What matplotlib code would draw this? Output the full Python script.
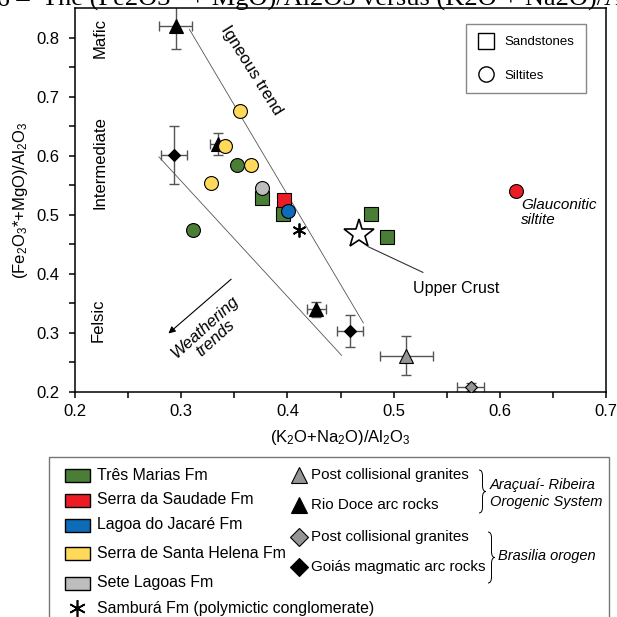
import matplotlib
matplotlib.use('Agg')
import matplotlib.pyplot as plt
from matplotlib.lines import Line2D
from matplotlib.patches import Rectangle, PathPatch
from matplotlib.path import Path

plt.rcParams['font.family'] = 'Liberation Sans'
plt.rcParams['mathtext.fontset'] = 'custom'
plt.rcParams['mathtext.rm'] = 'Liberation Sans'
plt.rcParams['mathtext.it'] = 'Liberation Sans:italic'

# --- data ---
# sandstones (squares)
tm_sand_x = [0.376, 0.396, 0.479, 0.4935]
tm_sand_y = [0.528, 0.502, 0.502, 0.463]
ss_sand_x = [0.397]
ss_sand_y = [0.525]
# siltites (circles)
tm_silt_x = [0.353, 0.311]
tm_silt_y = [0.585, 0.474]
sh_silt_x = [0.355, 0.341, 0.366, 0.328]
sh_silt_y = [0.675, 0.617, 0.585, 0.553]
sl_silt_x = [0.376]
sl_silt_y = [0.546]
lj_silt_x = [0.401]
lj_silt_y = [0.506]
ss_silt_x = [0.615]
ss_silt_y = [0.541]
# Samburá conglomerate
sb_x = [0.411]
sb_y = [0.475]
# upper crust
uc_x = [0.467]
uc_y = [0.468]
# Rio Doce arc rocks (mean +- error)
rd_x = [0.295, 0.335, 0.427]
rd_y = [0.819, 0.620, 0.340]
rd_xerr = [0.0155, 0.008, 0.009]
rd_yerr = [0.039, 0.018, 0.013]
# Araçuaí post collisional granites
ap_x = [0.512]
ap_y = [0.261]
ap_xerr = [0.025]
ap_yerr = [0.033]
# Goiás magmatic arc rocks
ga_x = [0.293, 0.459]
ga_y = [0.601, 0.303]
ga_xerr = [0.012, 0.012]
ga_yerr = [0.049, 0.027]
# Brasilia post collisional granites
bp_x = [0.5725]
bp_y = [0.2085]
bp_xerr = [0.0125]
bp_yerr = [0.007]
# trend lines
ign_upper_x = [0.3077, 0.4715]
ign_upper_y = [0.814, 0.317]
ign_lower_x = [0.279, 0.451]
ign_lower_y = [0.598, 0.262]

green = '#4a7d35'
red = '#ec1c24'
blue = '#0d6bb8'
yellow = '#ffd95a'
lgrey = '#bdbdbd'
dgrey = '#959595'

fig = plt.figure(figsize=(6.17, 6.17), dpi=100)
ax = fig.add_axes([75/617, 1 - 392/617, 531/617, 384/617])

ax.plot(ign_upper_x, ign_upper_y, color='#555555', lw=0.6)
ax.plot(ign_lower_x, ign_lower_y, color='#555555', lw=0.6)

eb = dict(fmt='none', ecolor='#555555', elinewidth=1, capsize=3.5, capthick=1, zorder=2)
ax.errorbar(rd_x, rd_y, xerr=rd_xerr, yerr=rd_yerr, **eb)
ax.errorbar(ap_x, ap_y, xerr=ap_xerr, yerr=ap_yerr, **eb)
ax.errorbar(ga_x, ga_y, xerr=ga_xerr, yerr=ga_yerr, **eb)
ax.errorbar(bp_x, bp_y, xerr=bp_xerr, yerr=bp_yerr, **eb)

mk = dict(ls='none', mec='black', mew=0.8, zorder=3)
ax.plot(rd_x, rd_y, marker='^', ms=10, mfc='black', **mk)
ax.plot(ap_x, ap_y, marker='^', ms=10, mfc=dgrey, **mk)
ax.plot(ga_x, ga_y, marker='D', ms=6, mfc='black', **mk)
ax.plot(bp_x, bp_y, marker='D', ms=6, mfc=dgrey, **mk)

ax.plot(ss_sand_x, ss_sand_y, marker='s', ms=10, mfc=red, **mk)
ax.plot(tm_sand_x, tm_sand_y, marker='s', ms=10, mfc=green, **mk)
ax.plot(tm_silt_x, tm_silt_y, marker='o', ms=10, mfc=green, **mk)
ax.plot(sh_silt_x, sh_silt_y, marker='o', ms=10, mfc=yellow, **mk)
ax.plot(sl_silt_x, sl_silt_y, marker='o', ms=10, mfc=lgrey, **mk)
ax.plot(lj_silt_x, lj_silt_y, marker='o', ms=10, mfc=blue, **mk)
ax.plot(ss_silt_x, ss_silt_y, marker='o', ms=10, mfc=red, **mk)
ax.plot(sb_x, sb_y, ls='none', marker=(6, 2, 0), ms=10, mec='black', mew=1.3, zorder=3)
ax.plot(uc_x, uc_y, ls='none', marker='*', ms=22, mfc='white', mec='black', mew=1.2, zorder=3)

# annotations
ax.annotate('Upper Crust', xy=(0.476, 0.446), xytext=(0.559, 0.376),
            ha='center', va='center', fontsize=11.5,
            arrowprops=dict(arrowstyle='-', color='#333333', lw=0.8, shrinkA=9, shrinkB=0))
ax.text(0.620, 0.504, 'Glauconitic\nsiltite', style='italic', fontsize=11,
        ha='left', va='center', linespacing=1.1)
ax.text(0.366, 0.745, 'Igneous trend', rotation=-58, fontsize=12,
        ha='center', va='center', rotation_mode='anchor')
ax.annotate('', xy=(0.286, 0.296), xytext=(0.349, 0.394),
            arrowprops=dict(arrowstyle='-|>', color='black', lw=0.8, mutation_scale=10))
ax.text(0.3275, 0.301, 'Weathering\ntrends', rotation=42, style='italic', fontsize=12,
        ha='center', va='center', rotation_mode='anchor', linespacing=1.0)
ax.text(0.2235, 0.80, 'Mafic', rotation=90, fontsize=12, ha='center', va='center')
ax.text(0.2235, 0.588, 'Intermediate', rotation=90, fontsize=12, ha='center', va='center')
ax.text(0.222, 0.322, 'Felsic', rotation=90, fontsize=12, ha='center', va='center')

ax.set_xlim(0.2, 0.7)
ax.set_ylim(0.2, 0.85)
ax.set_xticks([0.2, 0.3, 0.4, 0.5, 0.6, 0.7])
ax.set_xticks([0.25, 0.35, 0.45, 0.55, 0.65], minor=True)
ax.set_yticks([0.2, 0.3, 0.4, 0.5, 0.6, 0.7, 0.8])
ax.set_yticks([0.25, 0.35, 0.45, 0.55, 0.65, 0.75], minor=True)
ax.tick_params(which='both', direction='out', length=4, width=1.1, labelsize=12)
ax.tick_params(axis='y', pad=7)
ax.tick_params(axis='x', pad=5)
for s in ax.spines.values():
    s.set_linewidth(1.1)
ax.set_xlabel('(K$_2$O+Na$_2$O)/Al$_2$O$_3$', fontsize=12, labelpad=6)
ax.set_ylabel('(Fe$_2$O$_3$*+MgO)/Al$_2$O$_3$', fontsize=12, labelpad=5)

handles = [Line2D([], [], ls='none', marker='s', ms=11, mfc='white', mec='black', mew=1),
           Line2D([], [], ls='none', marker='o', ms=11, mfc='white', mec='black', mew=1)]
leg = ax.legend(handles, ['Sandstones', 'Siltites'], loc='upper left',
                bbox_to_anchor=(0.736, 0.958), fontsize=9.5, fancybox=False,
                edgecolor='#888888', framealpha=1, borderpad=0.9, labelspacing=1.6,
                handlelength=1.2, handletextpad=0.8, borderaxespad=0)
leg.get_frame().set_linewidth(1)

# --- bottom legend, drawn in pixel coordinates ---
lax = fig.add_axes([0, 0, 1, 1])
lax.set_xlim(0, 617)
lax.set_ylim(617, 0)
lax.axis('off')

lax.add_patch(Rectangle((49, 457), 560, 200, fc='none', ec='#777777', lw=1))

fm_names = ['Três Marias Fm', 'Serra da Saudade Fm', 'Lagoa do Jacaré Fm',
            'Serra de Santa Helena Fm', 'Sete Lagoas Fm']
fm_colors = [green, red, blue, yellow, lgrey]
fm_rows = [475, 500, 525, 553, 583]
for name, c, yy in zip(fm_names, fm_colors, fm_rows):
    lax.add_patch(Rectangle((65, yy - 6.5), 25, 13, fc=c, ec='black', lw=1))
    lax.text(97, yy, name, fontsize=11.4, va='center', ha='left')
lax.plot([77], [608], ls='none', marker=(6, 2, 0), ms=12, mec='black', mew=1.2)
lax.text(97, 608, 'Samburá Fm (polymictic conglomerate)', fontsize=11.4, va='center')

rock_names = ['Post collisional granites', 'Rio Doce arc rocks',
              'Post collisional granites', 'Goiás magmatic arc rocks']
rock_marks = ['^', '^', 'D', 'D']
rock_fill = [dgrey, 'black', dgrey, 'black']
rock_rows = [475, 505, 537, 567]
for name, m, c, yy in zip(rock_names, rock_marks, rock_fill, rock_rows):
    lax.plot([299], [yy], ls='none', marker=m, ms=12 if m == '^' else 9,
             mfc=c, mec='black', mew=0.8)
    lax.text(311, yy, name, fontsize=10.9, va='center')


def brace(x, y0, y1, w):
    ym = (y0 + y1) / 2
    r = min(6, (y1 - y0) / 6)
    verts = [(x, y0), (x + w / 2, y0), (x + w / 2, y0 + r),
             (x + w / 2, ym - r),
             (x + w / 2, ym), (x + w, ym), (x + w, ym),
             (x + w, ym), (x + w / 2, ym), (x + w / 2, ym + r),
             (x + w / 2, y1 - r),
             (x + w / 2, y1), (x, y1)]
    codes = [Path.MOVETO, Path.CURVE3, Path.CURVE3, Path.LINETO,
             Path.CURVE3, Path.CURVE3, Path.LINETO,
             Path.MOVETO, Path.CURVE3, Path.CURVE3, Path.LINETO,
             Path.CURVE3, Path.CURVE3]
    lax.add_patch(PathPatch(Path(verts, codes), fc='none', ec='black', lw=0.7))


brace(479, 470, 513, 7)
lax.text(490, 485, 'Araçuaí- Ribeira', style='italic', fontsize=10.5, va='center')
lax.text(490, 502, 'Orogenic System', style='italic', fontsize=10.5, va='center')
brace(488, 532, 583, 7)
lax.text(498, 556, 'Brasilia orogen', style='italic', fontsize=10.5, va='center')

# caption cut off at the top of the image
lax.text(30, 6, 'Figure 6 –', family='Liberation Serif', fontsize=19,
         ha='right', va='baseline')
lax.text(42, 6, 'The (Fe2O3* + MgO)/Al2O3 versus (K2O + Na2O)/Al2O3 diagram',
         family='Liberation Serif', fontsize=19, ha='left', va='baseline')

fig.savefig('out.png', dpi=100)
